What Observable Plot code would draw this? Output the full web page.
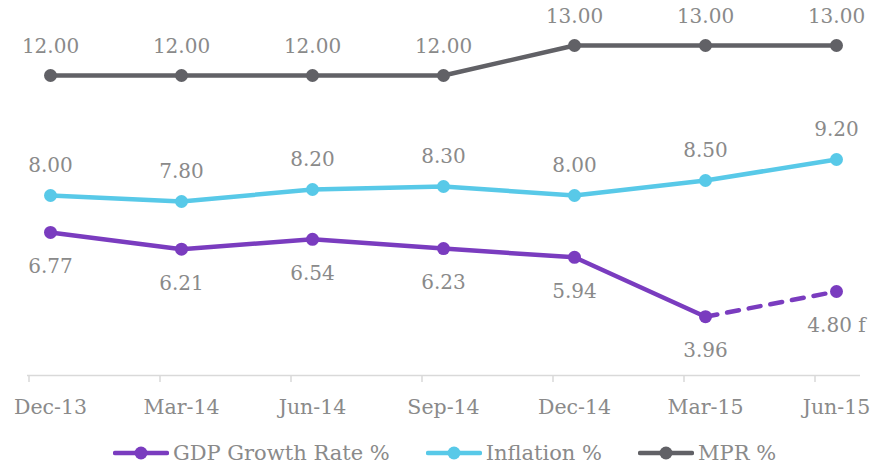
<!DOCTYPE html>
<html>
<head>
<meta charset="utf-8">
<script src="https://cdn.jsdelivr.net/npm/d3@7"></script>
<script src="https://cdn.jsdelivr.net/npm/@observablehq/plot@0.6"></script>
<style>
  body { margin: 0; background: #fff; font-family: "DejaVu Serif", serif; }
  #chart { width: 889px; }
  .legend { display: flex; justify-content: center; align-items: center; gap: 36px; padding-top: 10px; height: 26px; font-family: "DejaVu Serif", serif; font-size: 21px; color: #8a8a8a; }
  .item { display: flex; align-items: center; gap: 4px; }
  .item span { font-family: "DejaVu Serif", serif; }
</style>
</head>
<body>
<div id="chart"></div>
<script>
const periods = ["Dec-13", "Mar-14", "Jun-14", "Sep-14", "Dec-14", "Mar-15", "Jun-15"];
const gdp = [6.77, 6.21, 6.54, 6.23, 5.94, 3.96, 4.80];
const gdpForecast = [false, false, false, false, false, false, true];
const inflation = [8.00, 7.80, 8.20, 8.30, 8.00, 8.50, 9.20];
const mpr = [12.00, 12.00, 12.00, 12.00, 13.00, 13.00, 13.00];
const seriesNames = ["GDP Growth Rate %", "Inflation %", "MPR %"];
const colors = ["#7a3cbf", "#58c9e8", "#616166"];

const rows = (vals, extra) => periods.map((p, i) => ({period: p, value: vals[i], i, forecast: extra ? extra[i] : false}));
const gdpRows = rows(gdp, gdpForecast);
const infRows = rows(inflation);
const mprRows = rows(mpr);
const gdpActual = gdpRows.filter(d => !d.forecast);
const lastActual = gdpActual[gdpActual.length - 1];
const gdpDashed = [lastActual, ...gdpRows.filter(d => d.forecast)];

const fmt = d => d.value.toFixed(2) + (d.forecast ? " f" : "");
const textColor = "#8a8a8a";
const fs = 20;
const lw = 4.5, r = 6.5;

const plot = Plot.plot({
  width: 889,
  height: 430,
  marginLeft: 48,
  marginRight: 51,
  marginTop: 15,
  marginBottom: 55,
  style: {fontFamily: "DejaVu Serif", background: "#fff"},
  x: {type: "point", domain: periods, padding: 0, label: null},
  y: {domain: [2, 14], axis: null},
  marks: [
    Plot.ruleY([2], {stroke: "#d9d9d9", strokeWidth: 1.5, insetLeft: -21, insetRight: -22}),
    Plot.axisX({tickSize: 7, tickFormat: () => "", dx: -21.5, stroke: "#d9d9d9", strokeWidth: 1.5, strokeOpacity: 1, label: null}),
    Plot.axisX({tickSize: 0, tickPadding: 24, fontSize: 20.5, fill: textColor, fillOpacity: 1, label: null}),
    // MPR
    Plot.line(mprRows, {x: "period", y: "value", stroke: colors[2], strokeWidth: lw}),
    Plot.dot(mprRows, {x: "period", y: "value", r, fill: colors[2]}),
    Plot.text(mprRows, {x: "period", y: "value", text: fmt, dy: -29, fontSize: fs, fill: textColor}),
    // Inflation
    Plot.line(infRows, {x: "period", y: "value", stroke: colors[1], strokeWidth: lw}),
    Plot.dot(infRows, {x: "period", y: "value", r, fill: colors[1]}),
    Plot.text(infRows, {x: "period", y: "value", text: fmt, dy: -30, fontSize: fs, fill: textColor}),
    // GDP
    Plot.line(gdpActual, {x: "period", y: "value", stroke: colors[0], strokeWidth: lw}),
    Plot.line(gdpDashed, {x: "period", y: "value", stroke: colors[0], strokeWidth: lw, strokeDasharray: "12,10", strokeLinecap: "round"}),
    Plot.dot(gdpRows, {x: "period", y: "value", r, fill: colors[0]}),
    Plot.text(gdpRows, {x: "period", y: "value", text: fmt, dy: 34, fontSize: fs, fill: textColor})
  ]
});
document.getElementById("chart").append(plot);

const legend = document.createElement("div");
legend.className = "legend";
seriesNames.forEach((name, k) => {
  const item = document.createElement("div");
  item.className = "item";
  item.innerHTML = `<svg width="56" height="16"><line x1="2" y1="8" x2="54" y2="8" stroke="${colors[k]}" stroke-width="${lw}" stroke-linecap="round"/><circle cx="28" cy="8" r="${r}" fill="${colors[k]}"/></svg><span>${name}</span>`;
  legend.append(item);
});
document.getElementById("chart").append(legend);
</script>
</body>
</html>
